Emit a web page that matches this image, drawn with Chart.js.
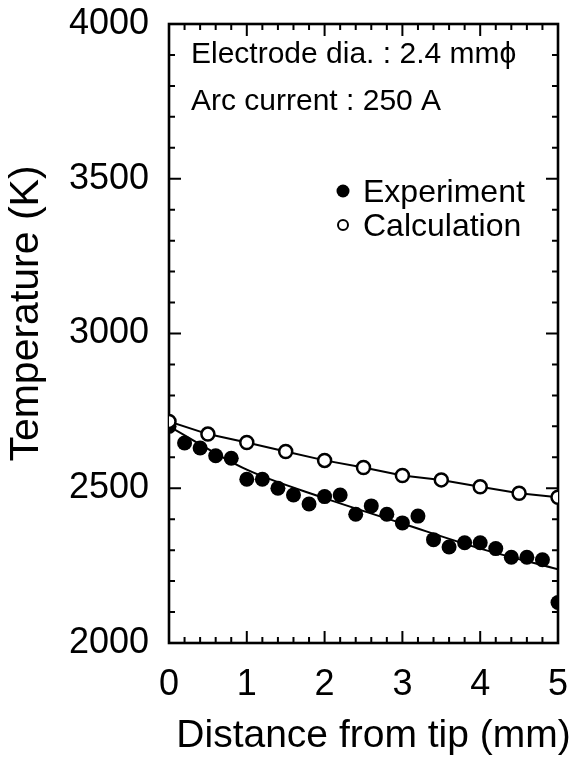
<!DOCTYPE html>
<html>
<head>
<meta charset="utf-8">
<script src="https://cdn.jsdelivr.net/npm/chart.js@4.4.0/dist/chart.umd.min.js"></script>
<style>
html, body { margin: 0; padding: 0; background: #fff; }
</style>
</head>
<body>
<canvas id="chart" width="573" height="758"></canvas>
<script>
// distance from electrode tip (mm) / temperature (K)
var expX = [0, 0.2, 0.4, 0.6, 0.8, 1.0, 1.2, 1.4, 1.6, 1.8, 2.0, 2.2, 2.4, 2.6, 2.8, 3.0, 3.2, 3.4, 3.6, 3.8, 4.0, 4.2, 4.4, 4.6, 4.8, 5.0];
var expT = [2700, 2646, 2630, 2605, 2597, 2529, 2529, 2500, 2478, 2449, 2473, 2478, 2416, 2443, 2416, 2388, 2410, 2334, 2310, 2324, 2324, 2305, 2277, 2277, 2269, 2131];
var calcX = [0, 0.5, 1.0, 1.5, 2.0, 2.5, 3.0, 3.5, 4.0, 4.5, 5.0];
var calcT = [2716, 2675, 2648, 2619, 2590, 2567, 2541, 2527, 2505, 2484, 2471];
// curve drawn through the experiment points
var fitX = [0, 1, 2, 3, 4, 5];
var fitT = [2700, 2560, 2468, 2386, 2305, 2238];
var xTicks = [0, 1, 2, 3, 4, 5];
var yTicks = [2000, 2500, 3000, 3500, 4000];
var xTitle = 'Distance from tip (mm)';
var yTitle = 'Temperature (K)';
var notes = ['Electrode dia. : 2.4 mm\u03d5', 'Arc current : 250 A'];
var legendOrder = ['Experiment', 'Calculation'];

var FONT = '"Liberation Sans", Arial, Helvetica, sans-serif';

function pts(xs, ys) {
	var out = [];
	for (var i = 0; i < xs.length; i++) {
		out.push({ x: xs[i], y: ys[i] });
	}
	return out;
}

// box round the plot with inward ticks on all four sides
var frame = {
	id: 'frame',
	beforeDatasetsDraw: function(chart) {
		var ctx = chart.ctx, a = chart.chartArea;
		var xs = chart.scales.x, ys = chart.scales.y;
		ctx.save();
		ctx.strokeStyle = '#000';
		ctx.lineWidth = 2.6;
		ctx.strokeRect(a.left, a.top, a.right - a.left, a.bottom - a.top);
		ctx.lineWidth = 2;
		ctx.beginPath();
		for (var i = 0; i <= 25; i++) {
			var px = xs.getPixelForValue(i / 5);
			var len = (i % 5 == 0) ? 12 : 6;
			ctx.moveTo(px, a.bottom); ctx.lineTo(px, a.bottom - len);
			ctx.moveTo(px, a.top); ctx.lineTo(px, a.top + len);
		}
		for (var t = 2000; t <= 4000; t += 100) {
			var py = ys.getPixelForValue(t);
			var l2 = (t % 500 == 0) ? 12 : 6;
			ctx.moveTo(a.left, py); ctx.lineTo(a.left + l2, py);
			ctx.moveTo(a.right, py); ctx.lineTo(a.right - l2, py);
		}
		ctx.stroke();
		ctx.restore();
	},
	afterDraw: function(chart) {
		var ctx = chart.ctx, a = chart.chartArea;
		ctx.save();
		ctx.fillStyle = '#000';

		// axis titles (set a little off centre, as in the original figure)
		ctx.textAlign = 'center';
		ctx.textBaseline = 'middle';
		ctx.font = '39px ' + FONT;
		ctx.fillText(xTitle, (a.left + a.right) / 2 + 10, 736);
		ctx.save();
		ctx.translate(27, (a.top + a.bottom) / 2 - 20);
		ctx.rotate(-Math.PI / 2);
		ctx.font = '41px ' + FONT;
		ctx.fillText(yTitle, 0, 0);
		ctx.restore();

		ctx.textAlign = 'left';
		ctx.textBaseline = 'alphabetic';
		ctx.font = '30px ' + FONT;
		ctx.fillText(notes[0], a.left + 22, a.top + 39);
		ctx.fillText(notes[1], a.left + 22, a.top + 86);

		// legend, built from the marker datasets
		ctx.font = '32px ' + FONT;
		for (var i = 0; i < legendOrder.length; i++) {
			var d = chart.data.datasets.filter(function(ds) { return ds.label == legendOrder[i]; })[0];
			var cx = a.left + 174, cy = a.top + 167 + i * 34;
			ctx.beginPath();
			ctx.arc(cx, cy, d.pointBorderWidth ? 5 : 6.5, 0, Math.PI * 2);
			ctx.fillStyle = d.pointBackgroundColor;
			ctx.fill();
			if (d.pointBorderWidth) {
				ctx.lineWidth = 2;
				ctx.strokeStyle = d.pointBorderColor;
				ctx.stroke();
			}
			ctx.fillStyle = '#000';
			ctx.fillText(d.label, cx + 20, cy + 11);
		}
		ctx.restore();
	}
};

new Chart(document.getElementById('chart'), {
	type: 'scatter',
	data: {
		datasets: [{
			label: 'Calculation',
			data: pts(calcX, calcT),
			showLine: true,
			borderColor: '#000',
			borderWidth: 2,
			pointRadius: 6.5,
			pointBackgroundColor: '#fff',
			pointBorderColor: '#000',
			pointBorderWidth: 2.5,
			order: 0
		}, {
			label: 'Experiment',
			data: pts(expX, expT),
			pointRadius: 7.5,
			pointBackgroundColor: '#000',
			pointBorderWidth: 0,
			order: 1
		}, {
			label: 'fit',
			data: pts(fitX, fitT),
			showLine: true,
			cubicInterpolationMode: 'monotone',
			borderColor: '#000',
			borderWidth: 2,
			pointRadius: 0,
			order: 2
		}]
	},
	options: {
		responsive: false,
		animation: false,
		devicePixelRatio: 1,
		layout: { padding: { top: 24, right: 15, left: 0, bottom: 0 } },
		plugins: {
			legend: { display: false },
			tooltip: { enabled: false }
		},
		scales: {
			x: {
				type: 'linear',
				min: 0,
				max: 5,
				afterBuildTicks: function(s) { s.ticks = xTicks.map(function(v) { return { value: v }; }); },
				grid: { display: false, drawTicks: false },
				border: { display: false },
				ticks: { color: '#000', font: { family: FONT, size: 36 }, padding: 20, maxRotation: 0,
					callback: function(v) { return String(v); } },
				afterFit: function(s) { s.height = 115; s.paddingLeft = 0; s.paddingRight = 0; }
			},
			y: {
				type: 'linear',
				min: 2000,
				max: 4000,
				afterBuildTicks: function(s) { s.ticks = yTicks.map(function(v) { return { value: v }; }); },
				grid: { display: false, drawTicks: false },
				border: { display: false },
				ticks: { color: '#000', font: { family: FONT, size: 36 }, padding: 20,
					callback: function(v) { return String(v); } },
				afterFit: function(s) { s.width = 169; s.paddingTop = 0; s.paddingBottom = 0; }
			}
		}
	},
	plugins: [frame]
});
</script>
</body>
</html>
